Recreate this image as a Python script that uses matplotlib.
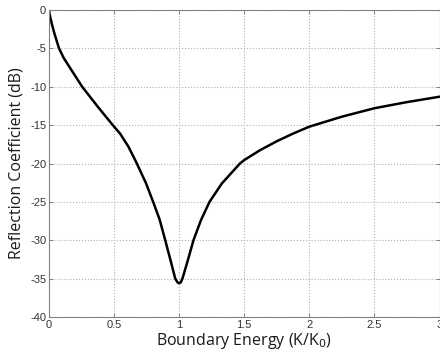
import matplotlib
matplotlib.use("Agg")
import matplotlib.pyplot as plt

# values
ENERGY = [0, 0.005, 0.023, 0.044, 0.077, 0.113, 0.16, 0.255, 0.37, 0.49, 0.546,
          0.61, 0.675, 0.746, 0.80, 0.85, 0.893, 0.935, 0.97, 0.988, 1.0, 1.012,
          1.025, 1.065, 1.11, 1.167, 1.233, 1.328, 1.467, 1.5, 1.623, 1.75, 1.875,
          2.0, 2.25, 2.5, 2.75, 3.0]
REFLECTION_DB = [0, -0.6, -1.9, -3.2, -5, -6.25, -7.5, -10, -12.5, -15, -16.1,
                 -17.8, -20, -22.6, -25, -27.3, -30, -32.7, -35, -35.5, -35.6, -35.5,
                 -35, -32.7, -30, -27.4, -25, -22.6, -20, -19.55, -18.25, -17.1, -16.1,
                 -15.2, -13.9, -12.8, -12.0, -11.3]
X_TICKS = [0, 0.5, 1, 1.5, 2, 2.5, 3]
Y_TICKS = [0, -5, -10, -15, -20, -25, -30, -35, -40]

plt.rcParams["font.family"] = ["Open Sans", "DejaVu Sans"]

fig = plt.figure(figsize=(4.4, 3.58), dpi=100)
ax = fig.add_axes([49 / 440, 1 - 317 / 358, 390.5 / 440, 307 / 358])

ax.plot(ENERGY, REFLECTION_DB, color="black", lw=1.8)
ax.set_xlim(0, 3)
ax.set_ylim(-40, 0)
ax.set_xticks(X_TICKS, [f"{t:g}" for t in X_TICKS])
ax.set_yticks(Y_TICKS, [f"{t:g}" for t in Y_TICKS])
ax.grid(True, linestyle=":", color="#b0b0b0", lw=0.8)
ax.tick_params(direction="in", top=True, right=True, length=3, width=0.7,
               colors="#808080", labelcolor="#333333", labelsize=8, pad=2)
for tick in ax.get_xticklabels() + ax.get_yticklabels():
    tick.set_family(["Liberation Sans", "DejaVu Sans"])
for sp in ax.spines.values():
    sp.set_color("#808080")
    sp.set_linewidth(0.8)

ax.set_xlabel(r"Boundary Energy (K/K$_0$)", fontsize=11.5, color="#1a1a1a", labelpad=1)
ax.set_ylabel("Reflection Coefficient (dB)", fontsize=11.5, color="#1a1a1a", labelpad=4)

fig.savefig("out.png", dpi=100)
